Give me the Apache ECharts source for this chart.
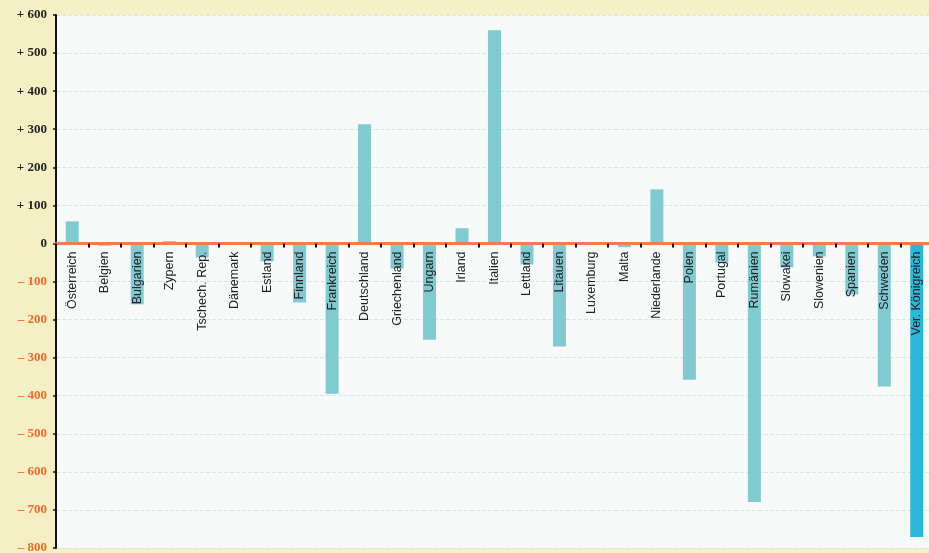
<!DOCTYPE html>
<html><head><meta charset="utf-8">
<script src="https://cdn.jsdelivr.net/npm/echarts@6/dist/echarts.min.js"></script>
<style>html,body{margin:0;padding:0;background:#f5f0c4;}#c{width:929px;height:553px;}</style>
</head><body><div id="c"></div>
<script>
const categories = ["Österreich","Belgien","Bulgarien","Zypern","Tschech. Rep.","Dänemark","Estland","Finnland","Frankreich","Deutschland","Griechenland","Ungarn","Irland","Italien","Lettland","Litauen","Luxemburg","Malta","Niederlande","Polen","Portugal","Rumänien","Slowakei","Slowenien","Spanien","Schweden","Ver. Königreich"];
const values = [58,-6,-160,6,-37,0,-47,-155,-395,313,-66,-253,40,560,-55,-271,0,-10,142,-358,-50,-679,-63,-34,-134,-376,-771];
const highlight = ["Ver. Königreich"];
const yMin = -800, yMax = 600, yStep = 100;

const G = {left: 56, top: 15, width: 877, height: 533};
const zeroPx = G.top + G.height * yMax / (yMax - yMin);
const bottomPx = G.top + G.height;

const chart = echarts.init(document.getElementById('c'));
chart.setOption({
  backgroundColor: '#f5f0c4',
  animation: false,
  grid: Object.assign({show: true, backgroundColor: '#f8fafa', borderWidth: 0, outerBoundsMode: 'none', containLabel: false}, G),
  xAxis: [{
    type: 'category', data: categories, z: 10,
    axisLine: {onZero: true, lineStyle: {color: '#f47a55', width: 3}},
    axisTick: {show: true, interval: 0, length: 4, lineStyle: {color: '#111', width: 2}},
    axisLabel: {show: false}
  }, {
    type: 'category', data: categories, z: 10, position: 'bottom', offset: -(bottomPx - zeroPx),
    axisLine: {show: false, onZero: false},
    axisTick: {show: false},
    axisLabel: {interval: 0, rotate: 90, color: '#222', fontSize: 12.5, fontFamily: 'Liberation Sans', margin: 8}
  }],
  yAxis: {
    type: 'value', min: yMin, max: yMax, interval: yStep,
    axisLine: {show: true, lineStyle: {color: '#111', width: 2}},
    axisTick: {show: true, length: 3, lineStyle: {color: '#111', width: 1.5}},
    splitLine: {show: true, lineStyle: {color: '#d3e6ee', type: 'dashed', width: 1}},
    axisLabel: {
      fontSize: 13, fontWeight: 'bold', fontFamily: 'Liberation Serif', margin: 9,
      formatter: v => v > 0 ? '+ ' + v : (v < 0 ? '\u2013 ' + (-v) : '0'),
      color: v => (Number(v) < 0 ? '#f26a2a' : '#222')
    }
  },
  series: [{
    type: 'bar', barWidth: 13, xAxisIndex: 0,
    data: values.map((v, i) => ({value: v, itemStyle: {color: highlight.includes(categories[i]) ? '#2bb8d8' : '#7fcbd1'}}))
  }]
});
</script></body></html>
